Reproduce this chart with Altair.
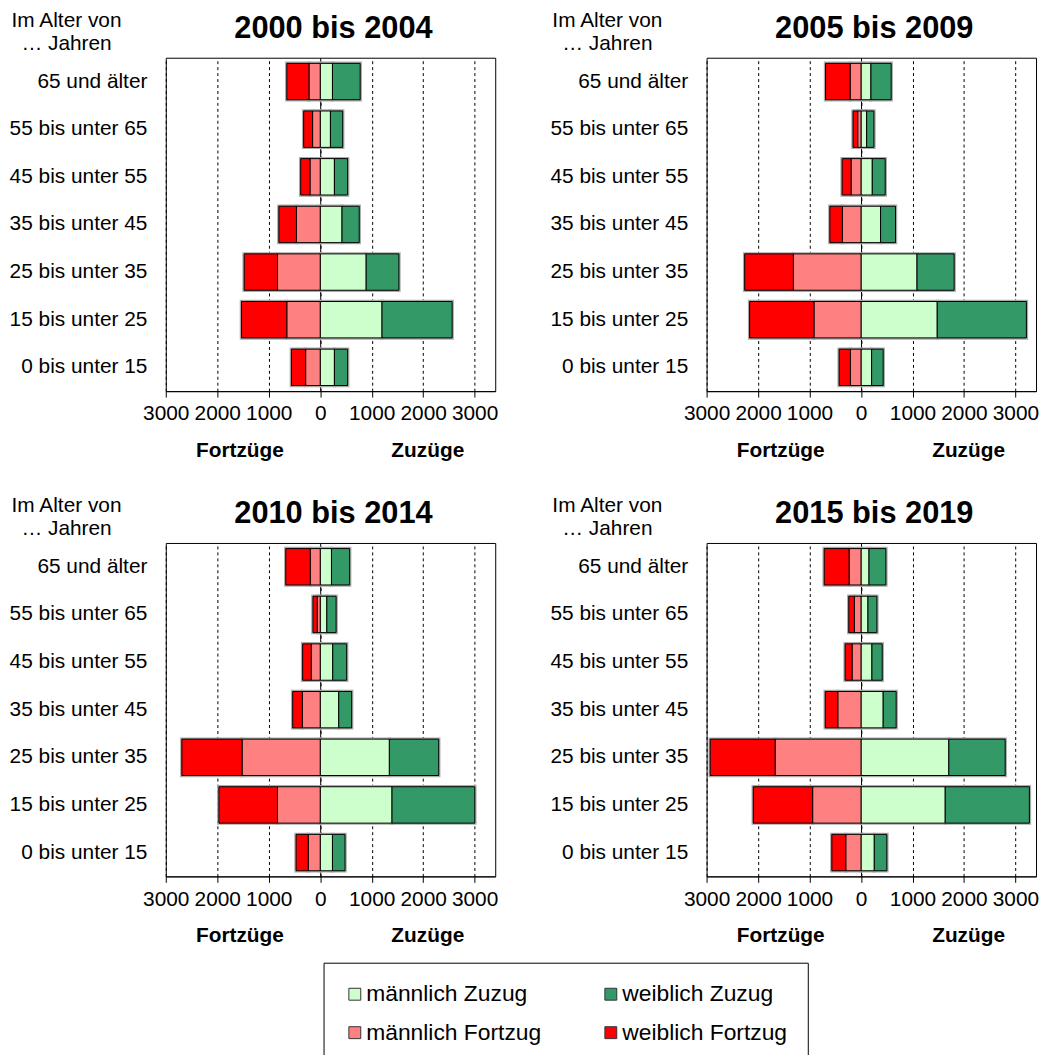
import altair as alt
import pandas as pd

ages = ["65 und älter", "55 bis unter 65", "45 bis unter 55", "35 bis unter 45",
        "25 bis unter 35", "15 bis unter 25", "0 bis unter 15"]
series = ["männlich Zuzug", "weiblich Zuzug", "männlich Fortzug", "weiblich Fortzug"]
colors = ["#CCFFCC", "#339966", "#FF8080", "#FF0000"]
periods = ["2000 bis 2004", "2005 bis 2009", "2010 bis 2014", "2015 bis 2019"]

# values per age group (order as in `ages`)
m_zuzug_2000 = [238, 199, 276, 424, 893, 1201, 276]
w_zuzug_2000 = [539, 238, 257, 334, 636, 1362, 257]
m_fortzug_2000 = [218, 148, 199, 462, 829, 649, 283]
w_fortzug_2000 = [431, 173, 180, 341, 648, 880, 276]

m_zuzug_2005 = [193, 109, 219, 380, 1088, 1481, 206]
w_zuzug_2005 = [393, 142, 251, 290, 721, 1732, 225]
m_fortzug_2005 = [212, 64, 193, 361, 1314, 914, 206]
w_fortzug_2005 = [477, 91, 174, 244, 946, 1250, 219]

m_zuzug_2010 = [219, 129, 244, 360, 1344, 1395, 238]
w_zuzug_2010 = [353, 180, 270, 251, 958, 1608, 244]
m_fortzug_2010 = [193, 58, 174, 347, 1518, 830, 232]
w_fortzug_2010 = [476, 83, 167, 187, 1170, 1138, 237]

m_zuzug_2015 = [155, 135, 212, 431, 1706, 1636, 258]
w_zuzug_2015 = [328, 174, 200, 252, 1095, 1635, 244]
m_fortzug_2015 = [232, 129, 174, 451, 1668, 940, 296]
w_fortzug_2015 = [483, 109, 135, 244, 1262, 1153, 271]

x_ticks = [-3000, -2000, -1000, 0, 1000, 2000, 3000]

FONT = "Liberation Sans"
W, H = 332, 336
XMIN, XMAX = -3000, 3400


def px(v):
    return W * (v - XMIN) / (XMAX - XMIN)


zero_px = px(0)


def build_df(mz, wz, mf, wf):
    rows = []
    for i, a in enumerate(ages):
        rows.append(dict(age=a, series=series[0], start=0, end=mz[i]))
        rows.append(dict(age=a, series=series[1], start=mz[i], end=mz[i] + wz[i]))
        rows.append(dict(age=a, series=series[2], start=0, end=-mf[i]))
        rows.append(dict(age=a, series=series[3], start=-mf[i], end=-mf[i] - wf[i]))
    return pd.DataFrame(rows)


PAD = "\u00a0" * 5
legend = alt.Legend(
    title=None, orient="none", legendX=159, legendY=912, columns=2, direction="horizontal",
    symbolType="square", symbolSize=144, symbolStrokeColor="#333333", symbolStrokeWidth=1,
    labelFontSize=23, labelFont=FONT, labelColor="black", labelLimit=500, labelOffset=0,
    labelExpr="indexof(datum.label, 'weiblich') >= 0 ? datum.label + '" + PAD + "' : datum.label",
    columnPadding=58, rowPadding=15, padding=20, strokeColor="black", fillColor="white",
)


def panel(title, df):
    yscale = alt.Scale(domain=ages, paddingInner=0.236, paddingOuter=0.118)
    xscale = alt.Scale(domain=[XMIN, XMAX], nice=False, zero=False)
    shadow = alt.Chart(df).mark_bar(fillOpacity=0, stroke="#aaaaaa", strokeWidth=3.5).encode(
        x=alt.X("start:Q", scale=xscale, axis=alt.Axis(
            values=x_ticks, title=None, grid=True, gridDash=[3, 3], gridColor="black",
            gridWidth=1, gridOpacity=1, domainColor="black", tickColor="black", tickSize=6,
            labelFontSize=21, labelFont=FONT, labelPadding=6, labelOverlap=False,
            labelFlush=False, labelExpr="format(abs(datum.value), 'd')", labelColor="black")),
        x2="end:Q",
        y=alt.Y("age:N", scale=yscale, sort=ages, axis=alt.Axis(
            title=None, orient="left", ticks=False, tickSize=0, domain=False,
            labelFontSize=21, labelFont=FONT, labelPadding=19, labelColor="black",
            labelLimit=300)),
    )
    bars = alt.Chart(df).mark_bar(stroke="black", strokeWidth=1).encode(
        x=alt.X("start:Q", scale=xscale),
        x2="end:Q",
        y=alt.Y("age:N", scale=yscale, sort=ages, axis=alt.Axis(
            title=None, orient="left", offset=-zero_px, labels=False, tickBand="extent",
            tickSize=6, tickColor="black", domain=True, domainColor="black", grid=False)),
        color=alt.Color("series:N", scale=alt.Scale(domain=series, range=colors), legend=legend),
    )
    ttl = alt.Chart(pd.DataFrame({"t": [title]})).mark_text(
        fontSize=31, fontWeight="bold", font=FONT, baseline="alphabetic", align="center",
        color="black").encode(x=alt.value(W / 2 + 3), y=alt.value(-20), text="t:N")
    alter = alt.Chart(pd.DataFrame({"t": [0]})).mark_text(
        text=["Im Alter von", "… Jahren"], lineHeight=23, fontSize=21, font=FONT,
        baseline="alphabetic", align="center", color="black").encode(
        x=alt.value(-100), y=alt.value(-31))
    fz = alt.Chart(pd.DataFrame({"t": ["Fortzüge"]})).mark_text(
        fontSize=21, fontWeight="bold", font=FONT, baseline="alphabetic", align="center",
        color="black").encode(x=alt.value(px(-1560)), y=alt.value(H + 66), text="t:N")
    zz = alt.Chart(pd.DataFrame({"t": ["Zuzüge"]})).mark_text(
        fontSize=21, fontWeight="bold", font=FONT, baseline="alphabetic", align="center",
        color="black").encode(x=alt.value(px(2090)), y=alt.value(H + 66), text="t:N")
    return alt.layer(shadow, bars, ttl, alter, fz, zz).resolve_axis(y="independent").properties(
        width=W, height=H)


p1 = panel(periods[0], build_df(m_zuzug_2000, w_zuzug_2000, m_fortzug_2000, w_fortzug_2000))
p2 = panel(periods[1], build_df(m_zuzug_2005, w_zuzug_2005, m_fortzug_2005, w_fortzug_2005))
p3 = panel(periods[2], build_df(m_zuzug_2010, w_zuzug_2010, m_fortzug_2010, w_fortzug_2010))
p4 = panel(periods[3], build_df(m_zuzug_2015, w_zuzug_2015, m_fortzug_2015, w_fortzug_2015))

chart = alt.concat(
    p1, p2, p3, p4, columns=2, spacing={"row": 153, "column": 213}, bounds="flush"
).properties(
    padding={"top": -3, "left": 0, "right": 0, "bottom": 0}
).configure(font=FONT).configure_view(stroke="black", strokeWidth=1)

chart.save("out.html", embed_options={"renderer": "svg", "actions": False})
